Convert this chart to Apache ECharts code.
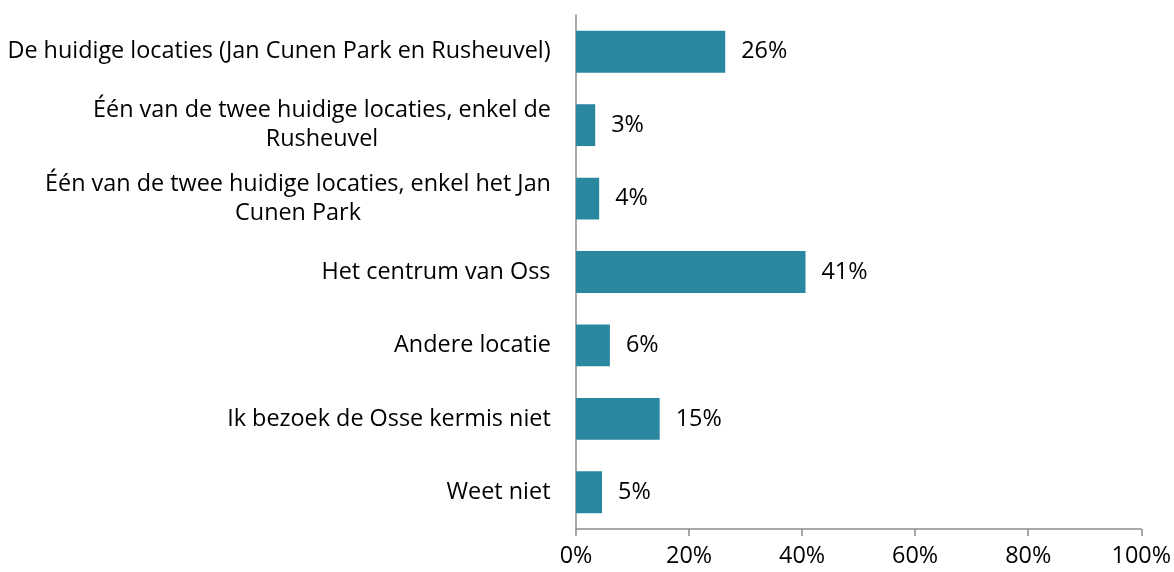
<!DOCTYPE html>
<html>
<head>
<meta charset="utf-8">
<script src="https://cdn.jsdelivr.net/npm/echarts@6/dist/echarts.min.js"></script>
<style>
	html, body { margin: 0; padding: 0; background: #fff; }
	#main { width: 1174px; height: 572px; }
</style>
</head>
<body>
<div id="main"></div>
<script>
// categories, top to bottom (wrapped lines as in the original)
const categories = [
	'De huidige locaties (Jan Cunen Park en Rusheuvel)',
	'Één van de twee huidige locaties, enkel de\nRusheuvel',
	'Één van de twee huidige locaties, enkel het Jan\nCunen Park',
	'Het centrum van Oss',
	'Andere locatie',
	'Ik bezoek de Osse kermis niet',
	'Weet niet'
];
const values = [26.4, 3.4, 4.1, 40.6, 6.0, 14.8, 4.6];
const xTicks = [0, 20, 40, 60, 80, 100];

const FONT = '"Open Sans", "Noto Sans", sans-serif';
const FS = 23.4;

// measure label lines so wrapped lines can be centred under each other
const ctx = document.createElement('canvas').getContext('2d');
ctx.font = FS + 'px ' + FONT;
const rich = {};
categories.forEach(function (c, i) {
	const w = Math.max.apply(null, c.split('\n').map(function (s) { return ctx.measureText(s).width; }));
	rich['l' + i] = { width: Math.ceil(w), align: 'center', fontSize: FS, fontFamily: FONT, color: '#000', lineHeight: 29 };
});

let myChart = echarts.init(document.getElementById('main'));
let option = {
	backgroundColor: '#fff',
	animation: false,
	grid: {
		left: 576,
		right: 32,
		top: 15,
		bottom: 43
	},
	xAxis: {
		type: 'value',
		min: xTicks[0],
		max: xTicks[xTicks.length - 1],
		interval: 20,
		axisLine: { show: true, lineStyle: { color: '#8c8c8c', width: 1.5 } },
		axisTick: { show: true, length: 7, lineStyle: { color: '#8c8c8c', width: 1.5 } },
		splitLine: { show: false },
		axisLabel: {
			margin: 16,
			fontSize: FS,
			fontFamily: FONT,
			color: '#000',
			formatter: '{value}%'
		}
	},
	yAxis: {
		type: 'category',
		inverse: true,
		data: categories,
		axisLine: { show: true, lineStyle: { color: '#8c8c8c', width: 1.5 } },
		axisTick: { show: false },
		axisLabel: {
			margin: 25,
			fontSize: FS,
			fontFamily: FONT,
			color: '#000',
			formatter: function (value, index) {
				return value.split('\n').map(function (s) { return '{l' + index + '|' + s + '}'; }).join('\n');
			},
			rich: rich
		}
	},
	series: [{
		type: 'bar',
		data: values,
		barCategoryGap: '43%',
		itemStyle: { color: '#2a87a0' },
		label: {
			show: true,
			position: 'right',
			distance: 16,
			fontSize: FS,
			fontFamily: FONT,
			color: '#000',
			formatter: function (p) { return Math.round(p.value) + '%'; }
		}
	}]
};
myChart.setOption(option);
</script>
</body>
</html>
